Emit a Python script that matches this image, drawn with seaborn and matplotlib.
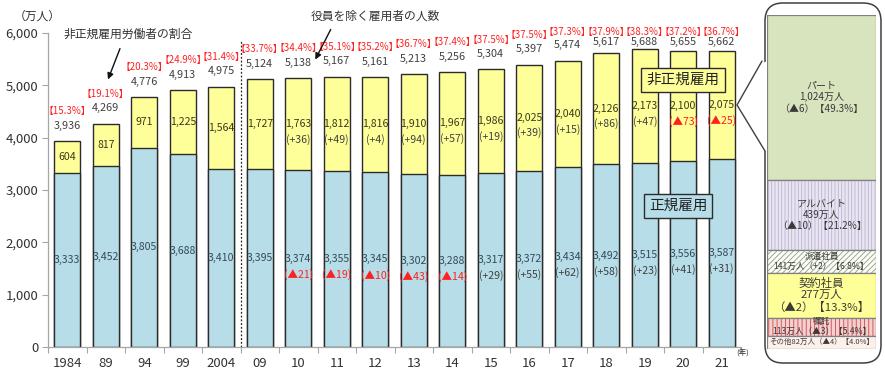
import numpy as np
import pandas as pd
import matplotlib
matplotlib.use("Agg")
import matplotlib.pyplot as plt
import seaborn as sns
from matplotlib.patches import FancyBboxPatch

# ---------------- data ----------------
years = ["1984", "89", "94", "99", "2004", "09", "10", "11", "12", "13",
         "14", "15", "16", "17", "18", "19", "20", "21"]
regular = [3333, 3452, 3805, 3688, 3410, 3395, 3374, 3355, 3345, 3302,
           3288, 3317, 3372, 3434, 3492, 3515, 3556, 3587]
nonregular = [604, 817, 971, 1225, 1564, 1727, 1763, 1812, 1816, 1910,
              1967, 1986, 2025, 2040, 2126, 2173, 2100, 2075]
total = [3936, 4269, 4776, 4913, 4975, 5124, 5138, 5167, 5161, 5213,
         5256, 5304, 5397, 5474, 5617, 5688, 5655, 5662]
share = [15.3, 19.1, 20.3, 24.9, 31.4, 33.7, 34.4, 35.1, 35.2, 36.7,
         37.4, 37.5, 37.5, 37.3, 37.9, 38.3, 37.2, 36.7]
reg_change = [None, None, None, None, None, None, -21, -19, -10, -43,
              -14, 29, 55, 62, 58, 23, 41, 31]
nonreg_change = [None, None, None, None, None, None, 36, 49, 4, 94,
                 57, 19, 39, 15, 86, 47, -73, -25]

types = ["パート", "アルバイト", "派遣社員", "契約社員", "嘱託", "その他"]
type_values = [1024, 439, 141, 277, 113, 82]
type_change = [-6, -10, 2, -2, -3, -4]
type_share = [49.3, 21.2, 6.8, 13.3, 5.4, 4.0]

# ---------------- style ----------------
sns.set_theme(style="white")
plt.rcParams["font.family"] = ["Noto Sans CJK JP", "DejaVu Sans"]
plt.rcParams["hatch.linewidth"] = 0.6

BLUE = "#B7DEE8"
YEL = "#FFFF99"
EDGE = "#2b2b2b"
TXT = "#404040"
RED = "#FF2020"
AXC = "#A6A6A6"

W, H = 885, 373
fig = plt.figure(figsize=(W / 100, H / 100), dpi=100)
fig.patch.set_facecolor("white")


def px(x, y):
    return x / W, 1 - y / H


# ---------------- main axes ----------------
ax = fig.add_axes([48 / W, 26 / H, (741 - 48) / W, 314 / H])
df = pd.DataFrame({"year": years, "total": total, "regular": regular})
sns.barplot(data=df, x="year", y="total", order=years, color=YEL, saturation=1,
            width=0.68, edgecolor=EDGE, linewidth=1.0, ax=ax)
sns.barplot(data=df, x="year", y="regular", order=years, color=BLUE, saturation=1,
            width=0.68, edgecolor=EDGE, linewidth=1.0, ax=ax)
ax.set_xlim(-0.5, len(years) - 0.5)
ax.set_ylim(0, 6000)
ax.set_xlabel("")
ax.set_ylabel("")
ax.set_yticks(range(0, 6001, 1000))
ax.set_yticklabels([f"{v:,}" for v in range(0, 6001, 1000)])
ax.tick_params(axis="y", length=4, width=0.8, color=AXC, labelsize=9.5,
               labelcolor="#333333", pad=3, left=True)
ax.set_xticks(np.arange(len(years)))
ax.set_xticklabels(years)
ax.set_xticks(np.arange(-0.5, len(years), 1), minor=True)
ax.tick_params(axis="x", which="major", length=0, labelsize=9.5,
               labelcolor="#333333", pad=7)
ax.tick_params(axis="x", which="minor", length=4, width=0.8, color=AXC,
               bottom=True, direction="out")
for s in ["top", "right"]:
    ax.spines[s].set_visible(False)
for s in ["left", "bottom"]:
    ax.spines[s].set_color(AXC)
    ax.spines[s].set_linewidth(0.9)
ax.axvline(4.5, ymin=0, ymax=0.978, color="#222222", lw=0.9,
           linestyle=(0, (1.5, 1.5)), clip_on=False)


def chg_text(c):
    if c < 0:
        return f"(▲{abs(c)})", RED
    return f"(+{c})", TXT


for i in range(len(years)):
    r, n, t = regular[i], nonregular[i], total[i]
    ax.text(i, r / 2, f"{r:,}", ha="center", va="center", fontsize=7.6,
            color="#34495a")
    if reg_change[i] is not None:
        s, c = chg_text(reg_change[i])
        ax.text(i, r / 2 - 300, s, ha="center", va="center", fontsize=7.6,
                color=c)
    ax.text(i, r + n / 2, f"{n:,}", ha="center", va="center", fontsize=7.6,
            color="#3a3a1a")
    if nonreg_change[i] is not None:
        s, c = chg_text(nonreg_change[i])
        ax.text(i, r + n / 2 - 290, s, ha="center", va="center", fontsize=7.6,
                color=c)
    ax.text(i, min(t + 290, 5820), f"{t:,}", ha="center", va="center",
            fontsize=7.8, color=TXT, clip_on=False)
    ax.text(i, min(t + 570, 6010), f"【{share[i]:.1f}%】", ha="center",
            va="center", fontsize=7.0, color=RED, clip_on=False)

# labels boxes
fig.text(*px(683, 80), "非正規雇用", ha="center", va="center", fontsize=10.5,
         color="#222222",
         bbox=dict(boxstyle="square,pad=0.35", fc=YEL, ec=EDGE, lw=1.0))
fig.text(*px(678, 206), "正規雇用", ha="center", va="center", fontsize=10.5,
         color="#222222",
         bbox=dict(boxstyle="square,pad=0.35", fc=BLUE, ec=EDGE, lw=1.0))

# annotations
fig.text(*px(128, 34), "非正規雇用労働者の割合", ha="center", va="center",
         fontsize=8.5, color="#333333")
ax_ann = fig.add_axes([0, 0, 1, 1], facecolor="none")
ax_ann.set_xlim(0, W)
ax_ann.set_ylim(H, 0)
ax_ann.axis("off")
ax_ann.annotate("", xy=(107, 82), xytext=(121, 46),
                arrowprops=dict(arrowstyle="-|>", color="#111111", lw=1.0,
                                mutation_scale=9))
fig.text(*px(375, 16), "役員を除く雇用者の人数", ha="center", va="center",
         fontsize=8.5, color="#333333")
ax_ann.annotate("", xy=(314, 62), xytext=(332, 27),
                arrowprops=dict(arrowstyle="-|>", color="#111111", lw=1.0,
                                mutation_scale=9))
fig.text(*px(14, 16), "（万人）", ha="left", va="center", fontsize=8.5,
         color="#333333")
fig.text(*px(736, 354), "(年)", ha="left", va="center", fontsize=5.5,
         color="#333333")

# callout box
box = FancyBboxPatch((765, 3), 116, 360, boxstyle="round,pad=0,rounding_size=18",
                     fc="white", ec="#404040", lw=1.1, transform=ax_ann.transData,
                     zorder=1)
ax_ann.add_patch(box)
ax_ann.plot([765, 765], [63, 149], color="white", lw=2.5, zorder=2)
ax_ann.plot([762, 737, 765], [61, 105, 151], color="#404040", lw=1.0, zorder=3,
            solid_joinstyle="miter")

# ---------------- breakdown panel ----------------
ax2 = fig.add_axes([767 / W, 24 / H, (876 - 767) / W, (349 - 15) / H])
ax2.set_zorder(5)
ax2.patch.set_alpha(0)
vals = np.array(type_values)
sum_v = vals.sum()
tops = sum_v - np.concatenate([[0], np.cumsum(vals)[:-1]])
bottoms = tops - vals
styles = [
    dict(fc="#D7E4BD", hatch=None, hc="#D7E4BD"),
    dict(fc="#E9E5F1", hatch="|||||", hc="#BDB2D6"),
    dict(fc="#FBFDF7", hatch="//////", hc="#8E9C80"),
    dict(fc="#FFFF99", hatch=None, hc="#FFFF99"),
    dict(fc="#F4CFCF", hatch="||||", hc="#D04848"),
    dict(fc="#FDEFEA", hatch=None, hc="#FDEFEA"),
]
for i in range(len(types)):
    st = styles[i]
    ax2.bar([0], [vals[i]], bottom=[bottoms[i]], width=1.0, color=st["fc"],
            hatch=st["hatch"], edgecolor=st["hc"], linewidth=0)
    ax2.bar([0], [vals[i]], bottom=[bottoms[i]], width=1.0, fill=False,
            edgecolor="#808080", linewidth=0.9)
ax2.set_xlim(-0.5, 0.5)
ax2.set_ylim(0, sum_v)
ax2.axis("off")


def tchg(c):
    return f"（▲{abs(c)}）" if c < 0 else f"（+{c}）"


for i in range(len(types)):
    mid = (bottoms[i] + tops[i]) / 2
    v, c, s = type_values[i], tchg(type_change[i]), type_share[i]
    if i in (0, 1):
        txt = f"{types[i]}\n{v:,}万人\n{c}【{s}%】"
        fs = 7.2
    elif i == 3:
        txt = f"{types[i]}\n{v:,}万人\n{c}【{s}%】"
        fs = 8.2
    elif i in (2, 4):
        txt = f"{types[i]}\n{v:,}万人{c}【{s}%】"
        fs = 6.2
    else:
        txt = f"{types[i]}{v:,}万人{c}【{s}%】"
        fs = 5.4
    ax2.text(0, mid, txt, ha="center", va="center", fontsize=fs,
             color="#3a3a3a", linespacing=1.15)

fig.savefig("out.png", dpi=100)
